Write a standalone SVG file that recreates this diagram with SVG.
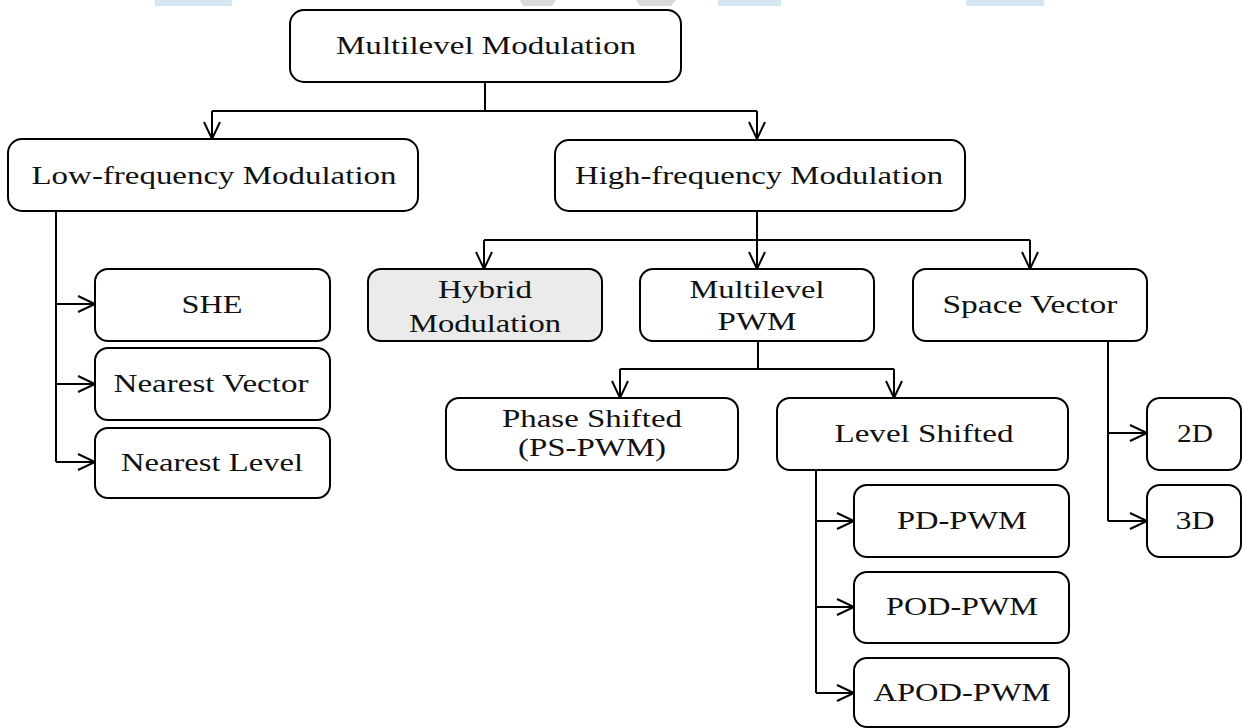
<svg xmlns="http://www.w3.org/2000/svg" width="1243" height="728" viewBox="0 0 1243 728">
<style>
.box{fill:#fff;stroke:#000;stroke-width:2}
.grey{fill:#ebebeb}
text{font-family:"Liberation Serif","Times New Roman",serif;font-size:25px;fill:#111;text-anchor:middle}
.ln{fill:none;stroke:#000;stroke-width:2}
</style>
<defs>
<marker id="arr" markerUnits="userSpaceOnUse" markerWidth="24" markerHeight="24" viewBox="-20 -12 24 24" refX="0" refY="0" orient="auto">
<path d="M-17,-8 L0,0 L-17,8" fill="none" stroke="#000" stroke-width="2"/>
</marker>
</defs>
<rect width="1243" height="728" fill="#fff"/>
<g id="watermark">
<rect x="155" y="0" width="77" height="6" fill="#d4e6f1"/>
<rect x="718" y="0" width="63" height="6" fill="#d4e6f1"/>
<rect x="966" y="0" width="78" height="6" fill="#d4e6f1"/>
<polygon points="520,0 556,0 552,6 523,6" fill="#d9d9d9"/>
<polygon points="636,0 676,0 671,6 640,6" fill="#d9d9d9"/>
</g>
<g id="connectors" class="ln">
<path d="M485,82 V111 M212,111 H757"/>
<path d="M212,111 V139" marker-end="url(#arr)"/>
<path d="M757,111 V139" marker-end="url(#arr)"/>
<path d="M56,211 V462"/>
<path d="M56,304 H95" marker-end="url(#arr)"/>
<path d="M56,384 H95" marker-end="url(#arr)"/>
<path d="M56,462 H95" marker-end="url(#arr)"/>
<path d="M757,211 V269" marker-end="url(#arr)"/>
<path d="M484,240 H1030"/>
<path d="M484,240 V269" marker-end="url(#arr)"/>
<path d="M1030,240 V269" marker-end="url(#arr)"/>
<path d="M758,340 V369 M620,369 H894"/>
<path d="M620,369 V398" marker-end="url(#arr)"/>
<path d="M894,369 V398" marker-end="url(#arr)"/>
<path d="M816,470 V693"/>
<path d="M816,521 H854" marker-end="url(#arr)"/>
<path d="M816,607 H854" marker-end="url(#arr)"/>
<path d="M816,693 H854" marker-end="url(#arr)"/>
<path d="M1108,341 V521"/>
<path d="M1108,433 H1147" marker-end="url(#arr)"/>
<path d="M1108,521 H1147" marker-end="url(#arr)"/>
</g>
<g id="n-root"><rect class="box" x="290" y="10" width="391" height="72" rx="14"/><text x="486" y="54" textLength="300" lengthAdjust="spacingAndGlyphs">Multilevel Modulation</text></g>
<g id="n-low"><rect class="box" x="8" y="139" width="410" height="72" rx="14"/><text x="214" y="184" textLength="365" lengthAdjust="spacingAndGlyphs">Low-frequency Modulation</text></g>
<g id="n-high"><rect class="box" x="555" y="140" width="410" height="71" rx="14"/><text x="759" y="184" textLength="368" lengthAdjust="spacingAndGlyphs">High-frequency Modulation</text></g>
<g id="n-she"><rect class="box" x="95" y="269" width="235" height="72" rx="13"/><text x="212" y="313" textLength="61" lengthAdjust="spacingAndGlyphs">SHE</text></g>
<g id="n-nv"><rect class="box" x="95" y="348" width="235" height="72" rx="13"/><text x="211" y="392" textLength="195" lengthAdjust="spacingAndGlyphs">Nearest Vector</text></g>
<g id="n-nl"><rect class="box" x="95" y="428" width="235" height="70" rx="13"/><text x="212" y="471" textLength="182" lengthAdjust="spacingAndGlyphs">Nearest Level</text></g>
<g id="n-hybrid"><rect class="box grey" x="368" y="269" width="234" height="72" rx="13"/><text x="485" y="298" textLength="94" lengthAdjust="spacingAndGlyphs">Hybrid</text><text x="485" y="332" textLength="152" lengthAdjust="spacingAndGlyphs">Modulation</text></g>
<g id="n-mpwm"><rect class="box" x="640" y="269" width="234" height="72" rx="13"/><text x="757" y="298" textLength="135" lengthAdjust="spacingAndGlyphs">Multilevel</text><text x="757" y="330" textLength="79" lengthAdjust="spacingAndGlyphs">PWM</text></g>
<g id="n-sv"><rect class="box" x="913" y="269" width="234" height="72" rx="13"/><text x="1030" y="313" textLength="175" lengthAdjust="spacingAndGlyphs">Space Vector</text></g>
<g id="n-ps"><rect class="box" x="446" y="398" width="292" height="72" rx="13"/><text x="592" y="427" textLength="180" lengthAdjust="spacingAndGlyphs">Phase Shifted</text><text x="592" y="456" textLength="148" lengthAdjust="spacingAndGlyphs">(PS-PWM)</text></g>
<g id="n-ls"><rect class="box" x="777" y="398" width="291" height="72" rx="13"/><text x="924" y="442" textLength="179" lengthAdjust="spacingAndGlyphs">Level Shifted</text></g>
<g id="n-pd"><rect class="box" x="854" y="485" width="215" height="72" rx="13"/><text x="962" y="529" textLength="130" lengthAdjust="spacingAndGlyphs">PD-PWM</text></g>
<g id="n-pod"><rect class="box" x="854" y="572" width="215" height="71" rx="13"/><text x="962" y="615" textLength="152" lengthAdjust="spacingAndGlyphs">POD-PWM</text></g>
<g id="n-apod"><rect class="box" x="854" y="658" width="215" height="69" rx="13"/><text x="962" y="701" textLength="177" lengthAdjust="spacingAndGlyphs">APOD-PWM</text></g>
<g id="n-2d"><rect class="box" x="1147" y="398" width="94" height="72" rx="13"/><text x="1195" y="442" textLength="36" lengthAdjust="spacingAndGlyphs">2D</text></g>
<g id="n-3d"><rect class="box" x="1147" y="485" width="94" height="72" rx="13"/><text x="1195" y="529" textLength="39" lengthAdjust="spacingAndGlyphs">3D</text></g>
</svg>
